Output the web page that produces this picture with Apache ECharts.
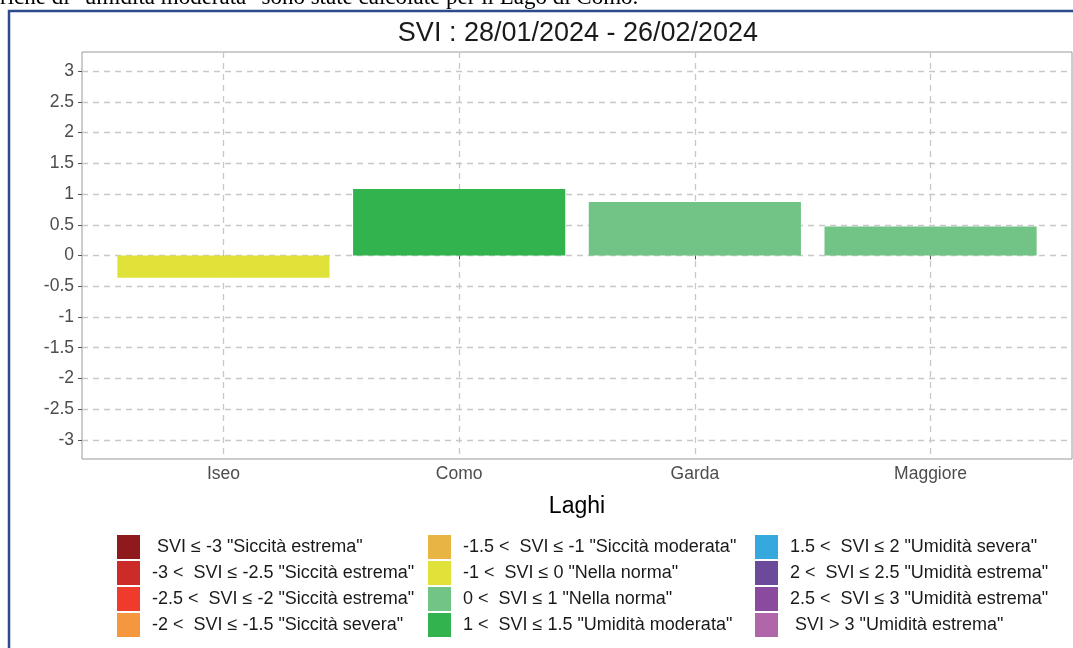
<!DOCTYPE html>
<html>
<head>
<meta charset="utf-8">
<style>
    html, body { margin: 0; padding: 0; background: #ffffff; }
    #chart { width: 1073px; height: 648px; }
</style>
<script src="https://cdn.jsdelivr.net/npm/echarts@6/dist/echarts.min.js"></script>
</head>
<body>
<div id="chart"></div>
<script>
// dati
const lakes = ["Iseo", "Como", "Garda", "Maggiore"];
const sviValues = [-0.36, 1.08, 0.87, 0.47];
const yTicks = [-3, -2.5, -2, -1.5, -1, -0.5, 0, 0.5, 1, 1.5, 2, 2.5, 3];

// classi SVI: limite superiore di ogni classe
const classUpper = [-3, -2.5, -2, -1.5, -1, 0, 1, 1.5, 2, 2.5, 3, Infinity];
const classLabels = [
    ' SVI ≤ -3 "Siccità estrema"',
    '-3 <  SVI ≤ -2.5 "Siccità estrema"',
    '-2.5 <  SVI ≤ -2 "Siccità estrema"',
    '-2 <  SVI ≤ -1.5 "Siccità severa"',
    '-1.5 <  SVI ≤ -1 "Siccità moderata"',
    '-1 <  SVI ≤ 0 "Nella norma"',
    '0 <  SVI ≤ 1 "Nella norma"',
    '1 <  SVI ≤ 1.5 "Umidità moderata"',
    '1.5 <  SVI ≤ 2 "Umidità severa"',
    '2 <  SVI ≤ 2.5 "Umidità estrema"',
    '2.5 <  SVI ≤ 3 "Umidità estrema"',
    ' SVI > 3 "Umidità estrema"'
];
const classColors = [
    "#8e1a1d", "#cd2b28", "#ee3b2c", "#f4973f",
    "#e8b443", "#e0e23a", "#72c386", "#32b34d",
    "#35a8de", "#6b4a9c", "#8a4b9f", "#b166aa"
];

function classOf(v) {
    for (let i = 0; i < classUpper.length; i++) {
        if (v <= classUpper[i]) return i;
    }
    return classUpper.length - 1;
}

const chart = echarts.init(document.getElementById("chart"));

const series = classLabels.map(function (label, k) {
    const pts = [];
    sviValues.forEach(function (v, i) {
        if (classOf(v) === k) pts.push([i + 1, v]);
    });
    return {
        name: label,
        type: "bar",
        data: pts,
        barWidth: "90%",
        barGap: "-100%",
        itemStyle: { color: classColors[k] },
        emphasis: { disabled: true },
        z: 1
    };
});

const legendCols = [0, 1, 2].map(function (c) {
    return {
        orient: "vertical",
        left: [112, 423, 750][c],
        top: 530,
        itemWidth: 23,
        itemHeight: 24,
        itemGap: 2,
        icon: "rect",
        selectedMode: false,
        data: classLabels.slice(c * 4, c * 4 + 4),
        textStyle: {
            fontFamily: "Liberation Sans",
            fontSize: 18,
            color: "#1a1a1a",
            padding: [0, 0, 0, 7]
        }
    };
});

chart.setOption({
    animation: false,
    textStyle: { fontFamily: "Liberation Sans" },
    title: {
        text: "SVI : 28/01/2024 - 26/02/2024",
        left: 573,
        top: 15,
        textAlign: "center",
        textStyle: { fontSize: 27, fontWeight: "normal", color: "#1a1a1a", fontFamily: "Liberation Sans" }
    },
    legend: legendCols,
    grid: {
        left: 82,
        right: 1,
        top: 52,
        bottom: 189,
        show: true,
        borderColor: "#9a9a9a",
        borderWidth: 1,
        containLabel: false
    },
    xAxis: {
        type: "value",
        min: 0.4,
        max: 4.6,
        name: "Laghi",
        nameLocation: "middle",
        nameGap: 36,
        nameTextStyle: { fontSize: 23, color: "#000000" },
        axisLine: { show: false },
        axisTick: { show: true, length: 4, customValues: [1, 2, 3, 4], lineStyle: { color: "#555555" } },
        axisLabel: {
            customValues: [1, 2, 3, 4],
            fontSize: 17.5,
            color: "#4d4d4d",
            margin: 6,
            formatter: function (v) { return lakes[Math.round(v) - 1] || ""; }
        },
        splitLine: { show: true, lineStyle: { color: "#c8c8c8", type: [6, 5], width: 1.3 } }
    },
    yAxis: {
        type: "value",
        min: -3.31,
        max: 3.31,
        axisLine: { show: false },
        axisTick: { show: true, length: 4, customValues: yTicks, lineStyle: { color: "#555555" } },
        axisLabel: {
            customValues: yTicks,
            fontSize: 17.5,
            color: "#4d4d4d",
            margin: 8,
            formatter: function (v) { return String(Math.round(v * 10) / 10); }
        },
        splitLine: { show: true, lineStyle: { color: "#c8c8c8", type: [6, 5], width: 1.3 } }
    },
    graphic: [
        {
            type: "text",
            left: 0,
            top: -14,
            style: {
                text: 'riche di "umidità moderata" sono state calcolate per il Lago di Como.',
                font: '23px "Liberation Serif"',
                fill: "#000000"
            }
        },
        {
            type: "polyline",
            shape: { points: [[9, 660], [9, 11], [1080, 11]] },
            style: { stroke: "#2c4a8c", lineWidth: 2.5, fill: null }
        }
    ],
    series: series
});
</script>
</body>
</html>
